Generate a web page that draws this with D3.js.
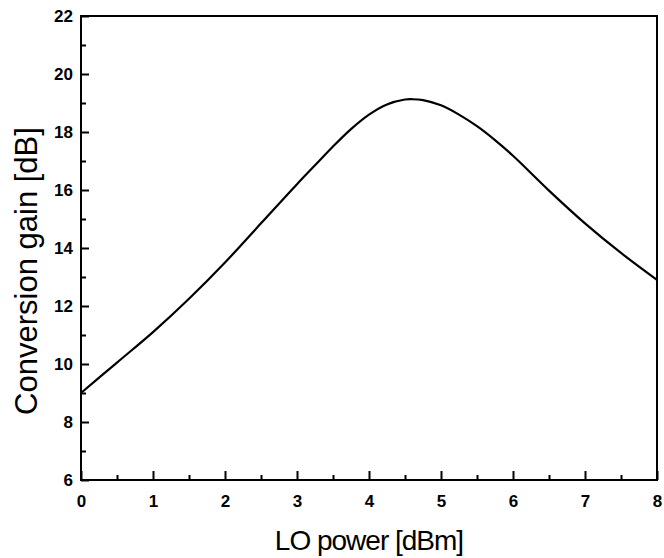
<!DOCTYPE html>
<html><head><meta charset="utf-8">
<script src="https://cdn.jsdelivr.net/npm/d3@7"></script>
<style>body{margin:0;background:#fff}svg{display:block}</style>
</head><body>
<svg id="c" width="664" height="558"></svg>
<script>
const loPower = [0, 0.5, 1, 1.5, 2, 2.5, 3, 3.25, 3.5, 3.75, 4, 4.25, 4.5, 4.6, 4.75, 5, 5.25, 5.5, 5.75, 6, 6.5, 7, 7.5, 8];
const gain = [9.0, 10.05, 11.1, 12.25, 13.5, 14.85, 16.2, 16.85, 17.5, 18.1, 18.6, 18.95, 19.12, 19.13, 19.1, 18.92, 18.6, 18.2, 17.72, 17.18, 15.98, 14.85, 13.83, 12.9];
const xTicks = [0, 1, 2, 3, 4, 5, 6, 7, 8];
const yTicks = [6, 8, 10, 12, 14, 16, 18, 20, 22];
const xTitle = "LO power [dBm]";
const yTitle = "Conversion gain [dB]";

const L = 81, R = 657, T = 16, B = 480;
const svg = d3.select("#c");
const x = d3.scaleLinear().domain([0, 8]).range([L, R]);
const y = d3.scaleLinear().domain([6, 22]).range([B, T]);

const font = "'Liberation Sans', Arial, Helvetica, sans-serif";

const xMinor = d3.range(0.5, 8, 1);
const yMinor = d3.range(7, 22, 2);

const gx = svg.append("g").attr("transform", `translate(0,${B})`)
  .call(d3.axisBottom(x).tickValues(xTicks).tickSize(-9).tickPadding(15).tickFormat(d3.format("d")));
gx.select(".domain").remove();
gx.selectAll(".tick line").attr("stroke", "#000").attr("stroke-width", 2);
gx.selectAll(".tick text").attr("font-family", font).attr("font-weight", "bold").attr("font-size", 17).attr("fill", "#000");

const gxm = svg.append("g").attr("transform", `translate(0,${B})`)
  .call(d3.axisBottom(x).tickValues(xMinor).tickSize(-5).tickFormat(""));
gxm.select(".domain").remove();
gxm.selectAll(".tick line").attr("stroke", "#000").attr("stroke-width", 2);

const gy = svg.append("g").attr("transform", `translate(${L},0)`)
  .call(d3.axisLeft(y).tickValues(yTicks).tickSize(-8).tickPadding(8).tickFormat(d3.format("d")));
gy.select(".domain").remove();
gy.selectAll(".tick line").attr("stroke", "#000").attr("stroke-width", 2);
gy.selectAll(".tick text").attr("font-family", font).attr("font-weight", "bold").attr("font-size", 17).attr("fill", "#000");

const gym = svg.append("g").attr("transform", `translate(${L},0)`)
  .call(d3.axisLeft(y).tickValues(yMinor).tickSize(-5).tickFormat(""));
gym.select(".domain").remove();
gym.selectAll(".tick line").attr("stroke", "#000").attr("stroke-width", 2);

svg.append("rect").attr("x", L).attr("y", T).attr("width", R - L).attr("height", B - T)
  .attr("fill", "none").attr("stroke", "#000").attr("stroke-width", 2);

const line = d3.line().x((d, i) => x(loPower[i])).y(d => y(d)).curve(d3.curveCatmullRom.alpha(0.5));
svg.append("path").datum(gain).attr("d", line)
  .attr("fill", "none").attr("stroke", "#000").attr("stroke-width", 2.2);

svg.append("text").attr("x", (L + R) / 2).attr("y", 550).attr("text-anchor", "middle")
  .attr("font-family", font).attr("font-size", 28).attr("letter-spacing", -1).attr("fill", "#000").text(xTitle);
svg.append("text").attr("transform", `translate(37,${(T + B) / 2 + 23}) rotate(-90)`).attr("text-anchor", "middle")
  .attr("font-family", font).attr("font-size", 31).attr("fill", "#000").text(yTitle);
</script>
</body></html>
